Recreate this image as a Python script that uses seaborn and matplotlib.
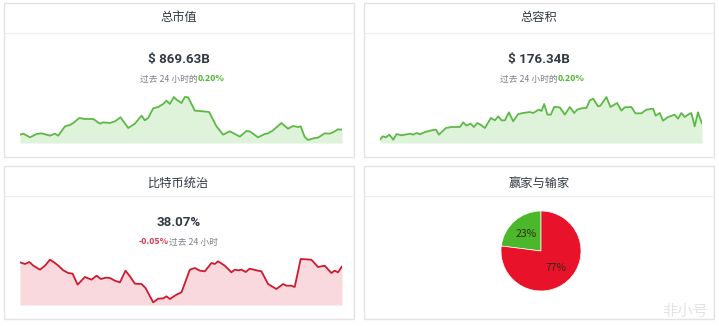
import numpy as np
import pandas as pd
import matplotlib
matplotlib.use("Agg")
import matplotlib.pyplot as plt
from matplotlib.patches import Rectangle
from matplotlib.lines import Line2D
import seaborn as sns

sns.set_theme(style="white")
plt.rcParams['font.family'] = ['Noto Sans CJK SC', 'DejaVu Sans']

# ---------------- data ----------------
titles = ["总市值", "总容积", "比特币统治", "赢家与输家"]
values_text = ["$ 869.63B", "$ 176.34B", "38.07%"]
change_text = ["0.20%", "0.20%", "-0.05%"]

mcap_t = [0, 1, 3, 5, 6.5, 9, 10.5, 11.5, 13.5, 15, 16, 17.8, 19.5, 22, 24, 25, 27, 28.5, 30.2,
          32.5, 34.5, 36.5, 37.5, 38.5, 40, 41.5, 43, 44, 45, 46.2, 47, 48.5, 49.5, 50.5, 52.5,
          55, 56.8, 59, 61, 63, 64, 66, 68, 69, 71.5, 73.5, 74.5, 76, 78.5, 80.5, 82, 83.5, 84.3,
          85.5, 86.5, 88.5, 89.5, 91.5, 93, 94, 95.5, 96.7]
mcap_v = [25, 28, 17, 27, 29, 22, 28, 22, 50, 54, 60, 75, 72, 72, 58, 62, 60, 65, 77,
          45, 58, 82, 68, 75, 104, 108, 117, 127, 117, 138, 130, 120, 138, 137, 97,
          95, 93, 50, 25, 35, 30, 19, 36, 35, 17, 27, 29, 38, 60, 43, 51, 48, 50,
          18, 9, 15, 16, 29, 28, 32, 41, 40]

vol_t = [0, 0.8, 1.8, 2.8, 4, 5, 6.5, 9, 10, 11, 12, 13.5, 15.5, 16.8, 17.7, 19.8, 21.5, 24,
         25, 26, 27.2, 28.2, 29.2, 30.2, 31.5, 33.3, 34.5, 35.5, 36.5, 37.5, 38.7, 40, 41.5,
         43, 45, 46, 47.7, 48.5, 49.3, 50.3, 51.3, 52.3, 54, 55.5, 57, 58.3, 59.2, 60.5, 62, 63,
         64, 65.5, 66.2, 68, 69.2, 71.2, 72.5, 73.5, 75.5, 76.7, 78.5, 80, 82, 82.8, 84, 85,
         86.5, 88.5, 89.5, 90.5, 91.5, 92.5, 93.5, 94.5, 95.5, 96.7]
vol_v = [10, 20, 17, 25, 10, 27, 23, 28, 25, 30, 26, 33, 38, 40, 25, 45, 48, 48,
         62, 52, 58, 48, 60, 55, 45, 75, 68, 80, 68, 68, 92, 65, 87,
         90, 93, 90, 100, 96, 117, 85, 85, 108, 107, 85, 108, 90, 100, 104, 105, 128,
         133, 110, 112, 138, 108, 120, 97, 107, 108, 89, 89, 100, 103, 82, 90, 67,
         78, 85, 73, 90, 78, 85, 90, 50, 92, 58]

dom_t = [0, 1.5, 2.8, 4, 6, 7.5, 9, 10.5, 11.5, 13, 14.5, 15.8, 17.3, 19.5, 21.5, 23, 24.3,
         25.8, 27, 28.5, 30, 31.7, 33, 34.5, 36.5, 37.7, 40, 41.5, 43, 44, 45, 47, 48.5, 51,
         52.5, 54, 55.5, 57.5, 58.5, 59.5, 61.5, 63.5, 64.5, 65.5, 66.5, 67.8, 69, 71, 72.5,
         74.5, 77, 79, 80, 81.5, 82.5, 84.3, 87.5, 89.5, 91.5, 93.5, 94.5, 95.5, 96.7]
dom_v = [128, 123, 129, 118, 106, 118, 136, 126, 118, 104, 96, 94, 61, 84, 76, 88, 78,
         82, 81, 73, 68, 103, 86, 64, 63, 51, 8, 19, 20, 26, 18, 31, 38, 106,
         111, 103, 101, 126, 123, 131, 118, 98, 106, 104, 106, 99, 109, 104, 101,
         63, 48, 63, 58, 58, 54, 138, 136, 114, 118, 96, 103, 98, 116]

pie_labels = ["赢家", "输家"]
pie_values = [23, 77]

# ---------------- style ----------------
W, H = 719, 326
GREEN = "#5cb946"
GREEN_FILL = "#dff3da"
RED = "#d0182f"
RED_FILL = "#f9d9dd"
TXT = "#333a44"
SUB = "#7a7f86"
BORDER = "#e3e3e3"

fig = plt.figure(figsize=(W / 100, H / 100), dpi=100)
fig.patch.set_facecolor("white")


def fx(x):
    return x / W


def fy(y):
    return 1 - y / H


def axes_px(x0, y0, x1, y1):
    return fig.add_axes([x0 / W, 1 - y1 / H, (x1 - x0) / W, (y1 - y0) / H])


panels = [(4, 3, 354, 157, 33), (364, 3, 714, 157, 33),
          (4, 166, 354, 319, 196), (364, 166, 714, 319, 196)]
for (x0, y0, x1, y1, hy) in panels:
    fig.patches.append(Rectangle((fx(x0), fy(y1)), fx(x1) - fx(x0), fy(y0) - fy(y1),
                                 transform=fig.transFigure, facecolor="white",
                                 edgecolor=BORDER, linewidth=1.0, zorder=-2))
    fig.add_artist(Line2D([fx(x0), fx(x1)], [fy(hy), fy(hy)], transform=fig.transFigure,
                          color="#ececec", linewidth=0.8, zorder=-1))

title_pos = [(179, 18), (539, 18), (179, 183), (539, 183)]
for t, (x, y) in zip(titles, title_pos):
    fig.text(fx(x), fy(y), t, ha="center", va="center", fontsize=8.8, color=TXT)

NUMFONT = ['Roboto', 'Noto Sans CJK SC']
value_pos = [(179, 59), (539, 59), (179, 222)]
for t, (x, y) in zip(values_text, value_pos):
    fig.text(fx(x), fy(y), t, ha="center", va="center", fontsize=9.6, fontweight="bold",
             color=TXT, family=NUMFONT)

# subtitles
fig.text(fx(198), fy(79), "过去 24 小时的", ha="right", va="center", fontsize=6.3, color=SUB)
fig.text(fx(198), fy(79), change_text[0], ha="left", va="center", fontsize=6.3,
         color="#4cb82e", fontweight="bold")
fig.text(fx(558), fy(79), "过去 24 小时的", ha="right", va="center", fontsize=6.3, color=SUB)
fig.text(fx(558), fy(79), change_text[1], ha="left", va="center", fontsize=6.3,
         color="#4cb82e", fontweight="bold")
fig.text(fx(169), fy(242), change_text[2], ha="right", va="center", fontsize=6.3,
         color="#d63a4f", fontweight="bold")
fig.text(fx(169), fy(242), "过去 24 小时", ha="left", va="center", fontsize=6.3, color=SUB)


def spark(ax, t, v, color, fill):
    df = pd.DataFrame({"t": t, "v": v})
    ax.fill_between(df["t"], df["v"], 0, color=fill, linewidth=0)
    sns.lineplot(data=df, x="t", y="v", ax=ax, color=color, linewidth=1.3)
    ax.set_xlim(0, 96.7)
    ax.set_ylim(0, 150)
    ax.set_axis_off()


spark(axes_px(20, 93, 342, 143), mcap_t, mcap_v, GREEN, GREEN_FILL)
spark(axes_px(380, 93, 702, 143), vol_t, vol_v, GREEN, GREEN_FILL)
spark(axes_px(20, 255, 342, 305), dom_t, dom_v, RED, RED_FILL)

# pie
axp = axes_px(501, 211, 581, 291)
wedges, texts, autotexts = axp.pie(pie_values, colors=["#4bb82c", "#e8122a"], startangle=90,
                                   counterclock=True, autopct="%d%%", pctdistance=0.55,
                                   wedgeprops=dict(linewidth=0.5, edgecolor="white"),
                                   textprops=dict(fontsize=7.5, color="#3a2a10"))
axp.set_xlim(-1, 1)
axp.set_ylim(-1, 1)
axp.set_aspect("equal")
axp.set_axis_off()

# watermark
fig.text(fx(708), fy(311), "非小号", ha="right", va="center", fontsize=11, color="#d8d8d8",
         alpha=0.7)

fig.savefig("out.png", dpi=100, facecolor="white")
